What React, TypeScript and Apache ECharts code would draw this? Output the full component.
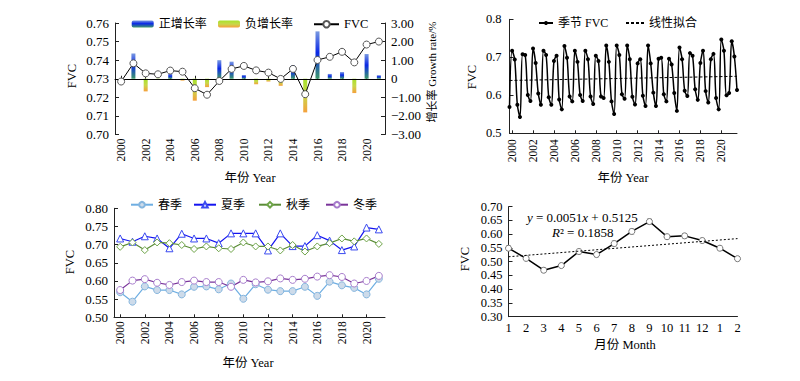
import React, { useEffect, useRef } from 'react';
import * as echarts from 'echarts';

const FONT = "'Liberation Serif', 'Times New Roman', 'Noto Sans CJK SC', serif";

const years = ['2000','2001','2002','2003','2004','2005','2006','2007','2008','2009','2010','2011','2012','2013','2014','2015','2016','2017','2018','2019','2020','2021'];
const annualFVC = [0.7285,0.7383,0.7329,0.7324,0.7344,0.7338,0.7249,0.7214,0.7288,0.7353,0.7369,0.7345,0.7333,0.7299,0.7353,0.7217,0.7401,0.7418,0.7445,0.7388,0.7484,0.7500];
const growthRate = [null,1.36,-0.68,-0.06,0.26,-0.10,-1.18,-0.45,1.00,0.92,0.20,-0.30,-0.15,-0.38,0.74,-1.81,2.55,0.26,0.36,-0.77,1.33,0.19];

const spring = [0.569,0.543,0.585,0.575,0.575,0.563,0.584,0.585,0.577,0.593,0.551,0.591,0.576,0.572,0.572,0.584,0.559,0.598,0.588,0.581,0.563,0.606];
const summer = [0.717,0.708,0.723,0.717,0.690,0.730,0.717,0.717,0.704,0.731,0.731,0.731,0.684,0.731,0.696,0.696,0.726,0.711,0.685,0.695,0.747,0.742];
const autumn = [0.694,0.706,0.685,0.706,0.704,0.699,0.688,0.695,0.690,0.688,0.706,0.695,0.695,0.684,0.699,0.681,0.695,0.704,0.717,0.709,0.717,0.702];
const winter = [0.575,0.601,0.605,0.595,0.589,0.597,0.601,0.597,0.597,0.584,0.603,0.596,0.599,0.607,0.603,0.606,0.612,0.616,0.611,0.593,0.600,0.614];
const seasonFitEnds = [0.639, 0.650];

const monthLabels = ['1','2','3','4','5','6','7','8','9','10','11','12','1','2'];
const monthFVC = [0.549,0.512,0.469,0.486,0.537,0.526,0.566,0.610,0.646,0.591,0.594,0.577,0.549,0.511];
const monthErr = [0.008,0.007,0.008,0.007,0.008,0.008,0.009,0.009,0.009,0.008,0.008,0.008,0.008,0.007];
const monthTrendEnds = [0.518, 0.584];

const axisLineStyle = { show: true, lineStyle: { color: '#222', width: 1 } };
const labelBase = { fontFamily: FONT, color: '#000' };

function lg(name: string, left: number, cy: number, w: number, h: number, fs: number, extra: any = {}) {
  return {
    data: [name], left, top: cy - 7, itemWidth: w, itemHeight: h, padding: 0, itemGap: 0,
    selectedMode: false, textStyle: { fontSize: fs, fontFamily: FONT, color: '#000' }, ...extra,
  };
}

function vtext(text: string, x: number, y: number, fs: number) {
  return { type: 'text', x, y, rotation: Math.PI / 2, style: { text, fontSize: fs, fontFamily: FONT, fill: '#000', textAlign: 'center', textVerticalAlign: 'middle' } };
}
function htext(text: string, x: number, y: number, fs: number) {
  return { type: 'text', x, y, style: { text, fontSize: fs, fontFamily: FONT, fill: '#000', textAlign: 'center', textVerticalAlign: 'middle' } };
}

export default function App() {
  const ref = useRef<HTMLDivElement>(null);
  useEffect(() => {
    document.body.style.margin = '0';
    const chart = echarts.init(ref.current!, null, { renderer: 'svg' });

    const seasonIdx: string[] = [];
    const seasonVals: number[] = [];
    years.forEach((_, i) => {
      [spring[i], summer[i], autumn[i], winter[i]].forEach((v) => {
        seasonIdx.push(String(seasonIdx.length));
        seasonVals.push(v);
      });
    });
    const monthIdx = monthLabels.map((_, i) => String(i));
    const lastS = seasonIdx.length - 1;
    const seasonLabelFn = (i: number) => i % 8 === 1;

    const posGrad = new echarts.graphic.LinearGradient(0, 0, 0, 1, [
      { offset: 0, color: '#7a9ae0' }, { offset: 0.45, color: '#0a28e6' }, { offset: 1, color: '#3f9a6a' },
    ]);
    const negGrad = new echarts.graphic.LinearGradient(0, 0, 0, 1, [
      { offset: 0, color: '#a6e22a' }, { offset: 0.5, color: '#c8d84a' }, { offset: 1, color: '#f5a03c' },
    ]);

    const yLab = (d: number) => ({ ...labelBase, fontSize: 13, formatter: (v: number) => v.toFixed(d) });

    const option: any = {
      animation: false,
      textStyle: { fontFamily: FONT },
      grid: [
        { left: 115, top: 23, width: 270, height: 111.5 },
        { left: 509.5, top: 19.3, width: 227.5, height: 114 },
        { left: 114, top: 208.3, width: 271, height: 109 },
        { left: 508.5, top: 206.7, width: 229, height: 110 },
      ],
      xAxis: [
        { gridIndex: 0, type: 'category', data: years, boundaryGap: true, axisLine: axisLineStyle,
          axisTick: { show: true, inside: true, alignWithLabel: true, interval: 1, length: 3, lineStyle: { color: '#222' } },
          axisLabel: { ...labelBase, fontSize: 11.5, interval: 1, rotate: 90, margin: 4 } },
        { gridIndex: 1, type: 'category', data: seasonIdx, boundaryGap: false, axisLine: axisLineStyle,
          axisTick: { show: true, inside: true, interval: seasonLabelFn, length: 3, lineStyle: { color: '#222' } },
          axisLabel: { ...labelBase, fontSize: 11.5, interval: seasonLabelFn, rotate: 90, margin: 6,
            formatter: (v: string) => years[Math.floor(Number(v) / 4)] } },
        { gridIndex: 2, type: 'category', data: years, boundaryGap: true, axisLine: axisLineStyle,
          axisTick: { show: true, inside: true, alignWithLabel: true, interval: 1, length: 3, lineStyle: { color: '#222' } },
          axisLabel: { ...labelBase, fontSize: 11.5, interval: 1, rotate: 90, margin: 4 } },
        { gridIndex: 3, type: 'category', data: monthIdx, boundaryGap: false, axisLine: axisLineStyle,
          axisTick: { show: false },
          axisLabel: { ...labelBase, fontSize: 12.5, interval: 0, margin: 5, formatter: (v: string) => monthLabels[Number(v)] } },
      ],
      yAxis: [
        { gridIndex: 0, type: 'value', min: 0.70, max: 0.76, interval: 0.01, position: 'left', splitLine: { show: false },
          axisLine: axisLineStyle, axisTick: { show: true, inside: true, length: 4, lineStyle: { color: '#222' } }, axisLabel: { ...yLab(2), margin: 6 } },
        { gridIndex: 0, type: 'value', min: -3, max: 3, interval: 1, position: 'right', splitLine: { show: false },
          axisLine: axisLineStyle, axisTick: { show: true, inside: true, length: 4, lineStyle: { color: '#222' } },
          axisLabel: { ...labelBase, fontSize: 13, margin: 6,
            formatter: (v: number) => (Math.abs(v) < 1e-9 ? '0' : v < 0 ? '\u2212' + Math.abs(v).toFixed(2) : v.toFixed(2)) } },
        { gridIndex: 1, type: 'value', min: 0.5, max: 0.8, interval: 0.1, splitLine: { show: false },
          axisLine: axisLineStyle, axisTick: { show: true, inside: true, length: 4, lineStyle: { color: '#222' } },
          axisLabel: { ...yLab(1), fontSize: 12.5, margin: 8 } },
        { gridIndex: 2, type: 'value', min: 0.5, max: 0.8, interval: 0.05, splitLine: { show: false },
          axisLine: axisLineStyle, axisTick: { show: true, inside: true, length: 4, lineStyle: { color: '#222' } }, axisLabel: { ...yLab(2), margin: 6 } },
        { gridIndex: 3, type: 'value', min: 0.3, max: 0.7, interval: 0.05, splitLine: { show: false },
          axisLine: axisLineStyle, axisTick: { show: true, inside: true, length: 4, lineStyle: { color: '#222' } },
          axisLabel: { ...yLab(2), fontSize: 12.5, margin: 6 } },
      ],
      legend: [
        lg('正增长率', 131.7, 25, 22, 7, 12),
        lg('负增长率', 218, 25, 22, 7, 12),
        lg('FVC', 313, 25, 25, 8, 12.5),
        lg('季节 FVC', 538, 24, 14, 5, 12),
        lg('线性拟合', 625, 24, 18, 5, 12, { itemStyle: { opacity: 0 } }),
        lg('春季', 130, 205.7, 22, 7, 12),
        lg('夏季', 193, 205.7, 22, 7, 12),
        lg('秋季', 258, 205.7, 22, 7, 12),
        lg('冬季', 325, 205.7, 22, 7, 12),
      ],
      series: [
        { name: '正增长率', type: 'bar', xAxisIndex: 0, yAxisIndex: 1, barWidth: 4, barGap: '-100%',
          data: growthRate.map((v) => (v != null && v > 0 ? v : '-')), itemStyle: { color: posGrad },
          markLine: { silent: true, symbol: 'none', label: { show: false }, data: [{ yAxis: 0 }],
            lineStyle: { color: '#000', width: 1, type: 'solid' } } },
        { name: '负增长率', type: 'bar', xAxisIndex: 0, yAxisIndex: 1, barWidth: 4, barGap: '-100%',
          data: growthRate.map((v) => (v != null && v < 0 ? v : '-')), itemStyle: { color: negGrad } },
        { name: 'FVC', type: 'line', xAxisIndex: 0, yAxisIndex: 0, data: annualFVC, symbol: 'circle', symbolSize: 7,
          lineStyle: { color: '#000', width: 1 }, itemStyle: { color: '#fff', borderColor: '#555', borderWidth: 1 }, z: 5 },

        { name: '季节 FVC', type: 'line', xAxisIndex: 1, yAxisIndex: 2, data: seasonVals, smooth: 0.35, symbol: 'circle', symbolSize: 4,
          showAllSymbol: true, lineStyle: { color: '#000', width: 1.5 }, itemStyle: { color: '#000' } },
        { name: '线性拟合', type: 'line', xAxisIndex: 1, yAxisIndex: 2, data: [[0, seasonFitEnds[0]], [lastS, seasonFitEnds[1]]],
          symbol: 'none', lineStyle: { color: '#000', width: 1, type: [3, 2] }, itemStyle: { color: '#000' } },

        { name: '春季', type: 'line', xAxisIndex: 2, yAxisIndex: 3, data: spring, symbol: 'circle', symbolSize: 7,
          lineStyle: { color: '#6eaee2', width: 1.2 }, itemStyle: { color: '#cddbea', borderColor: '#86b6de', borderWidth: 1 } },
        { name: '夏季', type: 'line', xAxisIndex: 2, yAxisIndex: 3, data: summer, symbol: 'triangle', symbolSize: 7,
          lineStyle: { color: '#1414f0', width: 1.2 }, itemStyle: { color: '#fff', borderColor: '#3a4af0', borderWidth: 1 } },
        { name: '秋季', type: 'line', xAxisIndex: 2, yAxisIndex: 3, data: autumn, symbol: 'diamond', symbolSize: 7,
          lineStyle: { color: '#5a8c36', width: 1.2 }, itemStyle: { color: '#fff', borderColor: '#6ea448', borderWidth: 1 } },
        { name: '冬季', type: 'line', xAxisIndex: 2, yAxisIndex: 3, data: winter, symbol: 'circle', symbolSize: 7,
          lineStyle: { color: '#7a349a', width: 1.2 }, itemStyle: { color: '#fff', borderColor: '#a77ccc', borderWidth: 1 } },

        { name: 'err', type: 'custom', xAxisIndex: 3, yAxisIndex: 4, z: 1,
          data: monthFVC.map((v, i) => [i, v, monthErr[i]]),
          encode: { x: 0, y: 1 },
          renderItem: (params: any, api: any) => {
            const x = api.value(0), y = api.value(1), e = api.value(2);
            const t = api.coord([x, y + e]);
            const b = api.coord([x, y - e]);
            const w = 2.5;
            const st = { stroke: '#9a9a9a', lineWidth: 1 };
            return { type: 'group', children: [
              { type: 'line', shape: { x1: t[0], y1: t[1], x2: b[0], y2: b[1] }, style: st },
              { type: 'line', shape: { x1: t[0] - w, y1: t[1], x2: t[0] + w, y2: t[1] }, style: st },
              { type: 'line', shape: { x1: b[0] - w, y1: b[1], x2: b[0] + w, y2: b[1] }, style: st },
            ] };
          } },
        { name: 'month', type: 'line', xAxisIndex: 3, yAxisIndex: 4, data: monthFVC, symbol: 'circle', symbolSize: 6, z: 3,
          lineStyle: { color: '#000', width: 1.5 }, itemStyle: { color: '#fff', borderColor: '#777', borderWidth: 1 } },
        { name: 'trend', type: 'line', xAxisIndex: 3, yAxisIndex: 4, z: 4,
          data: [[0, monthTrendEnds[0]], [monthLabels.length - 1, monthTrendEnds[1]]], symbol: 'none',
          lineStyle: { color: '#000', width: 1, type: [2, 2] } },
      ],
      graphic: [
        vtext('FVC', 71.5, 76, 12.5),
        vtext('增长率 Growth rate/%', 432, 72, 11),
        htext('年份 Year', 250, 178, 12.5),
        vtext('FVC', 471.5, 77, 12.5),
        htext('年份 Year', 623, 178, 12.5),
        vtext('FVC', 69.5, 262, 12.5),
        htext('年份 Year', 248, 363, 12.5),
        vtext('FVC', 465, 259, 12.5),
        htext('月份 Month', 625, 345, 12.5),
        { type: 'text', x: 527, y: 217, style: { text: '{i|y} = 0.0051{i|x} + 0.5125', fontSize: 13, fontFamily: FONT, fill: '#000',
          textAlign: 'left', textVerticalAlign: 'middle',
          rich: { i: { fontStyle: 'italic', fontSize: 13, fontFamily: FONT, fill: '#000' } } } },
        { type: 'text', x: 552, y: 232, style: { text: '{i|R}\u00b2 = 0.1858', fontSize: 13, fontFamily: FONT, fill: '#000',
          textAlign: 'left', textVerticalAlign: 'middle',
          rich: { i: { fontStyle: 'italic', fontSize: 13, fontFamily: FONT, fill: '#000' } } } },
      ],
    };
    chart.setOption(option);
    return () => chart.dispose();
  }, []);
  return <div ref={ref} style={{ width: 800, height: 381 }} />;
}
